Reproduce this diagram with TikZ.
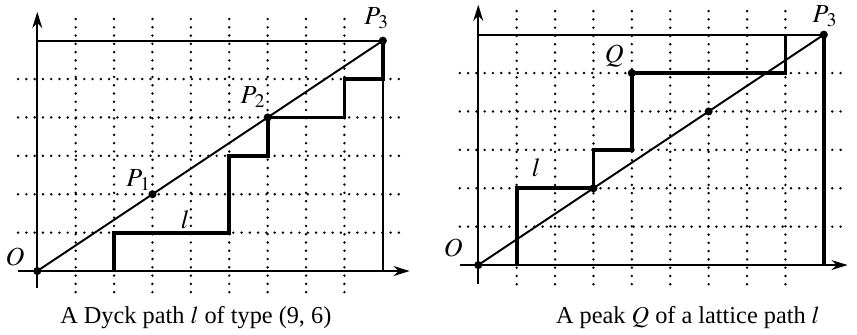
\documentclass[tikz,border=0pt]{standalone}
\usepackage{mathptmx}
\usepackage{fontspec}
\setmainfont{Liberation Serif}
\usepackage{tikz}
\usetikzlibrary{arrows.meta,positioning}

\begin{document}
\begin{tikzpicture}[x=0.75cm,y=0.75cm,
  font=\fontsize{13.5}{16}\selectfont,
  axis/.style={line width=1.3pt,-{Stealth[length=9pt,width=5.5pt]}},
  gridline/.style={line width=1.5pt,line cap=round,dash pattern=on 0pt off 4.6pt},
  frame/.style={line width=1.2pt},
  lpath/.style={line width=2.1pt},
  diag/.style={line width=1.1pt},
  pt/.style={circle,fill,inner sep=0pt,minimum size=4.5pt},
  lab/.style={inner sep=0.5pt,font=\fontsize{14.5}{17}\selectfont}]
 \useasboundingbox (0,0) rectangle (22.32,8.70);
 % Dyck path of type (9,6)
 \begin{scope}[shift={(0.971,1.641)}]
  \foreach \i in {1,...,8} \draw[gridline] (\i,-0.55) -- (\i,6.65);
  \foreach \j in {1,...,5} \draw[gridline] (-0.5,\j) -- (9.5,\j);
  \draw[axis] (-0.5,0) -- (9.7,0);
  \draw[axis] (0,-0.45) -- (0,6.75);
  \draw[frame] (0,6) -- (9,6) -- (9,0);
  \node[pt] (O) at (0,0) {};
  \node[pt] (P1) at (3,2) {};
  \node[pt] (P2) at (6,4) {};
  \node[pt] (P3) at (9,6) {};
  \draw[diag] (O.center) -- (P3.center);
  \draw[lpath] (2,0) |- (5,1) |- (6,3) |- (8,4) |- (9,5) -- (9,6);
  \node[lab] (labO) at (-0.58,0.37) {$O$};
  \node[lab] (labP1) at (2.64,2.38) {$P_{\kern0.8pt1}$};
  \node[lab] (labP2) at (5.62,4.52) {$P_{\kern0.8pt2}$};
  \node[lab] (labP3) at (8.84,6.58) {$P_{\kern0.8pt3}$};
  \node[lab] (labl) at (3.85,1.33) {$l$};
  \node (capL) at (4.13,-1.2) {A Dyck path $l$ of type (9, 6)};
 \end{scope}
 % peak of a lattice path
 \begin{scope}[shift={(12.456,1.797)}]
  \foreach \i in {1,...,8} \draw[gridline] (\i,-0.5) -- (\i,6.67);
  \foreach \j in {1,...,5} \draw[gridline] (-0.48,\j) -- (9.5,\j);
  \draw[axis] (-0.48,0) -- (9.62,0);
  \draw[axis] (0,-0.5) -- (0,6.78);
  \draw[frame] (0,6) -- (9,6) -- (9,0);
  \node[pt] (O') at (0,0) {};
  \node[pt] (A) at (3,2) {};
  \node[pt] (B) at (6,4) {};
  \node[pt] (Q) at (4,5) {};
  \node[pt] (P3') at (9,6) {};
  \draw[diag] (O'.center) -- (P3'.center);
  \draw[lpath] (1,0) |- (3,2) |- (4,3) |- (8,5) -- (8,6);
  \draw[lpath] (9,6) -- (9,0);
  \node[lab] (labO') at (-0.65,0.44) {$O$};
  \node[lab] (labQ) at (3.54,5.45) {$Q$};
  \node[lab] (labP3') at (9.03,6.48) {$P_{\kern0.8pt3}$};
  \node[lab] (labl') at (1.51,2.53) {$l$};
  \node (capR) at (5.46,-1.36) {A peak $Q$ of a lattice path $l$};
 \end{scope}
\end{tikzpicture}
\end{document}
